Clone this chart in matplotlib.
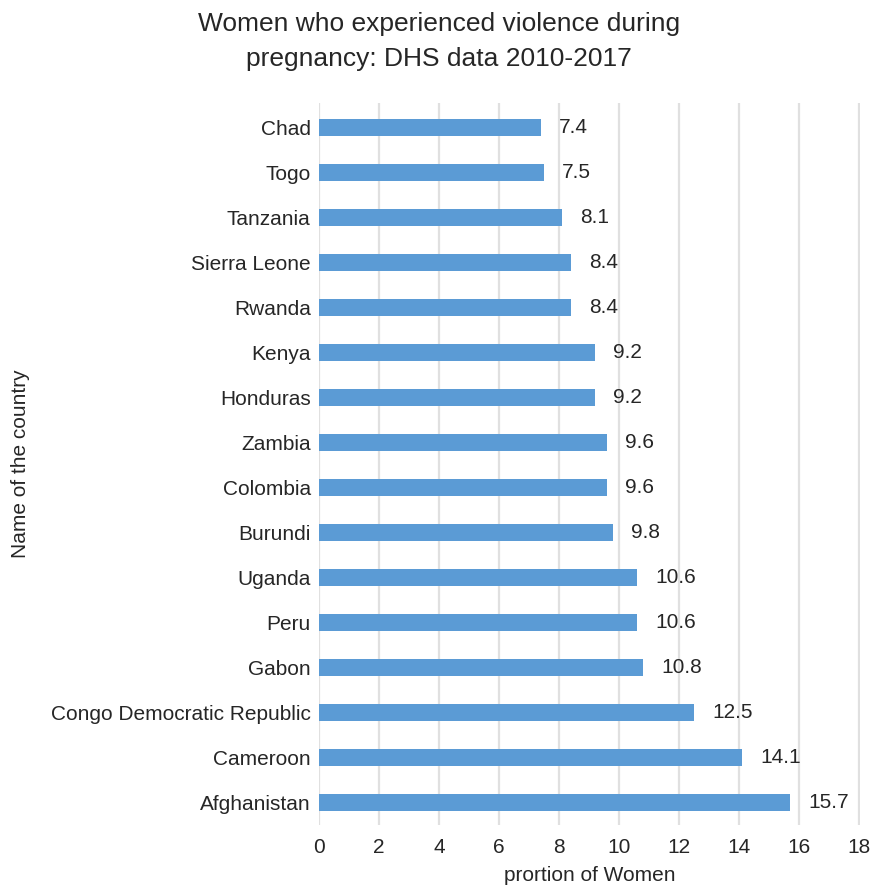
import matplotlib
matplotlib.use("Agg")
import matplotlib.pyplot as plt

# data (top to bottom in the picture)
countries = ["Chad", "Togo", "Tanzania", "Sierra Leone", "Rwanda", "Kenya",
             "Honduras", "Zambia", "Colombia", "Burundi", "Uganda", "Peru",
             "Gabon", "Congo Democratic Republic", "Cameroon", "Afghanistan"]
values = [7.4, 7.5, 8.1, 8.4, 8.4, 9.2, 9.2, 9.6, 9.6, 9.8,
          10.6, 10.6, 10.8, 12.5, 14.1, 15.7]
xticks = [0, 2, 4, 6, 8, 10, 12, 14, 16, 18]

plt.rcParams["font.family"] = ["Liberation Sans", "DejaVu Sans"]
txt = "#262626"

fig = plt.figure(figsize=(8.78, 8.86), dpi=100)
ax = fig.add_axes([0.3633, 0.0688, 0.6162, 0.8149])

# reverse so Chad ends up on top
names = countries[::-1]
vals = values[::-1]
pos = list(range(len(names)))
ax.barh(pos, vals, height=0.38, color="#5b9bd5", zorder=3)

for p, v in zip(pos, vals):
    ax.annotate(f"{v}", (v, p), xytext=(13, 0), textcoords="offset points",
                va="center", ha="left", fontsize=15, color=txt)

ax.set_xlim(0, 18.02)
ax.set_ylim(-0.51, 15.55)
ax.set_xticks(xticks)
ax.set_yticks(pos)
ax.set_yticklabels(names)
ax.tick_params(length=0, labelsize=15, colors=txt)
ax.tick_params(axis="y", pad=6)
ax.tick_params(axis="x", pad=9)
ax.grid(axis="x", color="#e0e0e0", linewidth=1.6, zorder=0)
for s in ax.spines.values():
    s.set_visible(False)

ax.set_xlabel("prortion of Women", fontsize=15, color=txt, labelpad=7)
ax.set_ylabel("Name of the country", fontsize=15, color=txt)
ax.yaxis.set_label_coords(-0.535, 0.5)
fig.suptitle("Women who experienced violence during\npregnancy: DHS data 2010-2017",
             fontsize=19, color=txt, y=0.986, linespacing=1.55)

fig.savefig("out.png", dpi=100)
